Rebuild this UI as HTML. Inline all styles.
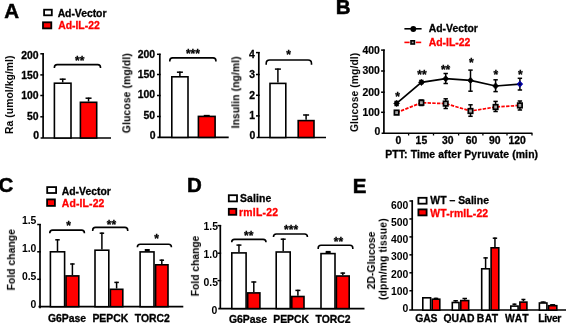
<!DOCTYPE html>
<html><head><meta charset="utf-8"><style>
html,body{margin:0;padding:0;background:#fff;}
body{width:566px;height:323px;overflow:hidden;}
svg{display:block;font-family:"Liberation Sans", sans-serif;font-weight:bold;}
text{will-change:transform;}
</style></head><body>
<svg width="566" height="323" viewBox="0 0 566 323">
<rect width="566" height="323" fill="#fff"/>
<text x="4.29" y="18" font-size="20.5" fill="#000" stroke="#000" stroke-width="0.5">A</text>
<rect x="44.1" y="9.7" width="7.7" height="5.6" fill="#fff" stroke="#000" stroke-width="1.8"/>
<text x="57.64" y="16.9" font-size="10.4" fill="#000" stroke="#000" stroke-width="0.3" letter-spacing="-0.03">Ad-Vector</text>
<rect x="43" y="22.3" width="8.3" height="6.1" fill="#ff0000" stroke="#000" stroke-width="1.8"/>
<text x="58.14" y="29.3" font-size="10.4" fill="#ff0000" stroke="#ff0000" stroke-width="0.3" letter-spacing="-0">Ad-IL-22</text>
<line x1="43.1" y1="138" x2="43.1" y2="53.2" stroke="#000" stroke-width="1.7" />
<line x1="40.3" y1="53.8" x2="43.95" y2="53.8" stroke="#000" stroke-width="1.5" />
<line x1="40.3" y1="74.9" x2="43.95" y2="74.9" stroke="#000" stroke-width="1.5" />
<line x1="40.3" y1="95.5" x2="43.95" y2="95.5" stroke="#000" stroke-width="1.5" />
<line x1="40.3" y1="116.8" x2="43.95" y2="116.8" stroke="#000" stroke-width="1.5" />
<text x="21.2" y="58.84" font-size="10.4" fill="#000" stroke="#000" stroke-width="0.3" >200</text>
<text x="21.2" y="78.84" font-size="10.4" fill="#000" stroke="#000" stroke-width="0.3" >150</text>
<text x="21.2" y="99.14" font-size="10.4" fill="#000" stroke="#000" stroke-width="0.3" >100</text>
<text x="26.92" y="120.14" font-size="10.4" fill="#000" stroke="#000" stroke-width="0.3" >50</text>
<text x="33.34" y="139.34" font-size="10.4" fill="#000" stroke="#000" stroke-width="0.3" >0</text>
<line x1="40.6" y1="138" x2="111" y2="138" stroke="#000" stroke-width="1.7" />
<rect x="54.4" y="83.2" width="16.6" height="54.8" fill="#fff" stroke="#000" stroke-width="1.6"/>
<line x1="62.7" y1="82.4" x2="62.7" y2="78.6" stroke="#000" stroke-width="1.5" />
<line x1="59.7" y1="79.2" x2="65.7" y2="79.2" stroke="#000" stroke-width="1.5" />
<rect x="80.4" y="102.3" width="16.3" height="35.7" fill="#ff0000" stroke="#000" stroke-width="1.6"/>
<line x1="88.55" y1="101.5" x2="88.55" y2="97.6" stroke="#000" stroke-width="1.5" />
<line x1="85.55" y1="98.2" x2="91.55" y2="98.2" stroke="#000" stroke-width="1.5" />
<path d="M54.4,68 L54.4,67.4 Q54.4,64.6 57.2,64.6 L97.7,64.6 Q100.5,64.6 100.5,67.4 L100.5,68" fill="none" stroke="#000" stroke-width="1.6"/>
<text x="75.05" y="64.55" font-size="12" fill="#000" stroke="#000" stroke-width="0.3" >**</text>
<text x="0" y="0" font-size="10.3" letter-spacing="0.09" fill="#000" transform="translate(13,133.97) rotate(-90)">Ra (umol/kg/ml)</text>
<line x1="159.8" y1="137.4" x2="159.8" y2="53.7" stroke="#000" stroke-width="1.7" />
<line x1="157" y1="54.3" x2="160.65" y2="54.3" stroke="#000" stroke-width="1.5" />
<line x1="157" y1="74.5" x2="160.65" y2="74.5" stroke="#000" stroke-width="1.5" />
<line x1="157" y1="95.5" x2="160.65" y2="95.5" stroke="#000" stroke-width="1.5" />
<line x1="157" y1="116.5" x2="160.65" y2="116.5" stroke="#000" stroke-width="1.5" />
<text x="137.7" y="58.14" font-size="10.4" fill="#000" stroke="#000" stroke-width="0.3" >200</text>
<text x="137.7" y="78.34" font-size="10.4" fill="#000" stroke="#000" stroke-width="0.3" >150</text>
<text x="137.7" y="98.34" font-size="10.4" fill="#000" stroke="#000" stroke-width="0.3" >100</text>
<text x="143.42" y="118.74" font-size="10.4" fill="#000" stroke="#000" stroke-width="0.3" >50</text>
<text x="149.74" y="138.84" font-size="10.4" fill="#000" stroke="#000" stroke-width="0.3" >0</text>
<line x1="157.4" y1="137.4" x2="228.7" y2="137.4" stroke="#000" stroke-width="1.7" />
<rect x="171.8" y="76.8" width="16.2" height="60.6" fill="#fff" stroke="#000" stroke-width="1.6"/>
<line x1="179.9" y1="76" x2="179.9" y2="71.6" stroke="#000" stroke-width="1.5" />
<line x1="176.9" y1="72.2" x2="182.9" y2="72.2" stroke="#000" stroke-width="1.5" />
<rect x="198.4" y="116.4" width="16.7" height="21" fill="#ff0000" stroke="#000" stroke-width="1.6"/>
<line x1="206.75" y1="115.6" x2="206.75" y2="115" stroke="#000" stroke-width="1.5" />
<line x1="203.75" y1="115.6" x2="209.75" y2="115.6" stroke="#000" stroke-width="1.5" />
<path d="M169.8,61.4 L169.8,60.7 Q169.8,57.9 172.6,57.9 L213.1,57.9 Q215.9,57.9 215.9,60.7 L215.9,61.4" fill="none" stroke="#000" stroke-width="1.6"/>
<text x="185.95" y="57.55" font-size="12" fill="#000" stroke="#000" stroke-width="0.3" >***</text>
<text x="0" y="0" font-size="10.3" letter-spacing="0.15" fill="#000" transform="translate(130.3,133.21) rotate(-90)">Glucose (mg/dl)</text>
<line x1="258.8" y1="137.5" x2="258.8" y2="52" stroke="#000" stroke-width="1.7" />
<line x1="256" y1="52.6" x2="259.65" y2="52.6" stroke="#000" stroke-width="1.5" />
<line x1="256" y1="74.5" x2="259.65" y2="74.5" stroke="#000" stroke-width="1.5" />
<line x1="256" y1="95.3" x2="259.65" y2="95.3" stroke="#000" stroke-width="1.5" />
<line x1="256" y1="115.9" x2="259.65" y2="115.9" stroke="#000" stroke-width="1.5" />
<text x="248.98" y="58.24" font-size="10.4" fill="#000" stroke="#000" stroke-width="0.3" >4</text>
<text x="249.24" y="78.44" font-size="10.4" fill="#000" stroke="#000" stroke-width="0.3" >3</text>
<text x="249.24" y="98.54" font-size="10.4" fill="#000" stroke="#000" stroke-width="0.3" >2</text>
<text x="249.24" y="119.24" font-size="10.4" fill="#000" stroke="#000" stroke-width="0.3" >1</text>
<text x="249.54" y="138.74" font-size="10.4" fill="#000" stroke="#000" stroke-width="0.3" >0</text>
<line x1="256.6" y1="137.5" x2="326" y2="137.5" stroke="#000" stroke-width="1.7" />
<rect x="270" y="83.4" width="15.8" height="54.1" fill="#fff" stroke="#000" stroke-width="1.6"/>
<line x1="277.9" y1="82.6" x2="277.9" y2="68.5" stroke="#000" stroke-width="1.5" />
<line x1="274.9" y1="69.1" x2="280.9" y2="69.1" stroke="#000" stroke-width="1.5" />
<rect x="298.2" y="120.6" width="15.8" height="16.9" fill="#ff0000" stroke="#000" stroke-width="1.6"/>
<line x1="306.1" y1="119.8" x2="306.1" y2="114.4" stroke="#000" stroke-width="1.5" />
<line x1="303.1" y1="115" x2="309.1" y2="115" stroke="#000" stroke-width="1.5" />
<path d="M266.2,64.8 L266.2,63.4 Q266.2,60 269.6,60 L308.1,60 Q311.5,60 311.5,63.4 L311.5,64.8" fill="none" stroke="#000" stroke-width="1.6"/>
<text x="286.25" y="58.85" font-size="12" fill="#000" stroke="#000" stroke-width="0.3" >*</text>
<text x="0" y="0" font-size="10.3" letter-spacing="0.11" fill="#000" transform="translate(239.3,128.37) rotate(-90)">Insulin (ng/ml)</text>
<text x="335.86" y="13.9" font-size="20.5" fill="#000" stroke="#000" stroke-width="0.5">B</text>
<line x1="404.4" y1="28.8" x2="421.6" y2="28.8" stroke="#000" stroke-width="1.6" />
<circle cx="413.3" cy="29" r="2.9" fill="#000"/>
<text x="428.74" y="32.3" font-size="10.4" fill="#000" stroke="#000" stroke-width="0.3" letter-spacing="0.01">Ad-Vector</text>
<line x1="404.4" y1="42.4" x2="409.6" y2="42.4" stroke="#ff0000" stroke-width="1.6" />
<line x1="415.8" y1="42.4" x2="421.2" y2="42.4" stroke="#ff0000" stroke-width="1.6" />
<rect x="411" y="40.8" width="3.4" height="3.2" fill="#a0a0a0" stroke="#000" stroke-width="1.6"/>
<text x="428.74" y="46.4" font-size="10.4" fill="#ff0000" stroke="#ff0000" stroke-width="0.3" letter-spacing="-0">Ad-IL-22</text>
<line x1="383.9" y1="133.3" x2="383.9" y2="49.5" stroke="#000" stroke-width="1.7" />
<line x1="381.1" y1="50.1" x2="384.75" y2="50.1" stroke="#000" stroke-width="1.5" />
<line x1="381.1" y1="71" x2="384.75" y2="71" stroke="#000" stroke-width="1.5" />
<line x1="381.1" y1="92.2" x2="384.75" y2="92.2" stroke="#000" stroke-width="1.5" />
<line x1="381.1" y1="112.3" x2="384.75" y2="112.3" stroke="#000" stroke-width="1.5" />
<text x="362.4" y="54.39" font-size="10.4" fill="#000" stroke="#000" stroke-width="0.2" >400</text>
<text x="362.4" y="74.49" font-size="10.4" fill="#000" stroke="#000" stroke-width="0.2" >300</text>
<text x="362.4" y="95.84" font-size="10.4" fill="#000" stroke="#000" stroke-width="0.2" >200</text>
<text x="362.4" y="115.94" font-size="10.4" fill="#000" stroke="#000" stroke-width="0.2" >100</text>
<text x="374.54" y="134.94" font-size="10.4" fill="#000" stroke="#000" stroke-width="0.2" >0</text>
<line x1="381.6" y1="133.3" x2="532.4" y2="133.3" stroke="#000" stroke-width="1.6" />
<line x1="408.6" y1="133.3" x2="408.6" y2="135.5" stroke="#000" stroke-width="1.3" />
<line x1="433.5" y1="133.3" x2="433.5" y2="135.5" stroke="#000" stroke-width="1.3" />
<line x1="458.6" y1="133.3" x2="458.6" y2="135.5" stroke="#000" stroke-width="1.3" />
<line x1="482.9" y1="133.3" x2="482.9" y2="135.5" stroke="#000" stroke-width="1.3" />
<line x1="507" y1="133.3" x2="507" y2="135.5" stroke="#000" stroke-width="1.3" />
<line x1="532" y1="133.3" x2="532" y2="135.5" stroke="#000" stroke-width="1.3" />
<text x="395.51" y="143.5" font-size="10.4" fill="#000" stroke="#000" stroke-width="0.3" >0</text>
<text x="415.62" y="143.5" font-size="10.4" fill="#000" stroke="#000" stroke-width="0.3" >15</text>
<text x="441.88" y="143.5" font-size="10.4" fill="#000" stroke="#000" stroke-width="0.3" >30</text>
<text x="465.65" y="143.5" font-size="10.4" fill="#000" stroke="#000" stroke-width="0.3" >60</text>
<text x="488.98" y="143.5" font-size="10.4" fill="#000" stroke="#000" stroke-width="0.3" >90</text>
<text x="508.56" y="143.5" font-size="10.4" fill="#000" stroke="#000" stroke-width="0.3" >120</text>
<text x="385.22" y="158.4" font-size="10.4" fill="#000" stroke="#000" stroke-width="0.3" letter-spacing="0.12">PTT: Time after Pyruvate (min)</text>
<text x="0" y="0" font-size="10.3" letter-spacing="0.1" fill="#000" transform="translate(358.1,132.01) rotate(-90)">Glucose (mg/dl)</text>
<polyline points="396.6,112.6 421.4,102.7 445.7,103.6 470.5,111 495.6,107 519.9,105.4" fill="none" stroke="#ff0000" stroke-width="1.7" stroke-dasharray="3.4,1.3"/>
<line x1="396.6" y1="111" x2="396.6" y2="114" stroke="#000" stroke-width="1.5" />
<line x1="394.4" y1="111" x2="398.8" y2="111" stroke="#000" stroke-width="1.5" />
<line x1="394.4" y1="114" x2="398.8" y2="114" stroke="#000" stroke-width="1.5" />
<line x1="421.4" y1="100" x2="421.4" y2="105.5" stroke="#000" stroke-width="1.5" />
<line x1="419.2" y1="100" x2="423.6" y2="100" stroke="#000" stroke-width="1.5" />
<line x1="419.2" y1="105.5" x2="423.6" y2="105.5" stroke="#000" stroke-width="1.5" />
<line x1="445.7" y1="98.8" x2="445.7" y2="108.5" stroke="#000" stroke-width="1.5" />
<line x1="443.5" y1="98.8" x2="447.9" y2="98.8" stroke="#000" stroke-width="1.5" />
<line x1="443.5" y1="108.5" x2="447.9" y2="108.5" stroke="#000" stroke-width="1.5" />
<line x1="470.5" y1="104.8" x2="470.5" y2="116.3" stroke="#000" stroke-width="1.5" />
<line x1="468.3" y1="104.8" x2="472.7" y2="104.8" stroke="#000" stroke-width="1.5" />
<line x1="468.3" y1="116.3" x2="472.7" y2="116.3" stroke="#000" stroke-width="1.5" />
<line x1="495.6" y1="101.4" x2="495.6" y2="111.5" stroke="#000" stroke-width="1.5" />
<line x1="493.4" y1="101.4" x2="497.8" y2="101.4" stroke="#000" stroke-width="1.5" />
<line x1="493.4" y1="111.5" x2="497.8" y2="111.5" stroke="#000" stroke-width="1.5" />
<line x1="519.9" y1="101" x2="519.9" y2="110" stroke="#000" stroke-width="1.5" />
<line x1="517.7" y1="101" x2="522.1" y2="101" stroke="#000" stroke-width="1.5" />
<line x1="517.7" y1="110" x2="522.1" y2="110" stroke="#000" stroke-width="1.5" />
<rect x="394.4" y="110.3" width="4.4" height="4.6" fill="#a8a8a8" stroke="#000" stroke-width="1.7"/>
<rect x="419.2" y="100.4" width="4.4" height="4.6" fill="#a8a8a8" stroke="#000" stroke-width="1.7"/>
<rect x="443.5" y="101.3" width="4.4" height="4.6" fill="#a8a8a8" stroke="#000" stroke-width="1.7"/>
<rect x="468.3" y="108.7" width="4.4" height="4.6" fill="#a8a8a8" stroke="#000" stroke-width="1.7"/>
<rect x="493.4" y="104.7" width="4.4" height="4.6" fill="#a8a8a8" stroke="#000" stroke-width="1.7"/>
<rect x="517.7" y="103.1" width="4.4" height="4.6" fill="#a8a8a8" stroke="#000" stroke-width="1.7"/>
<polyline points="396.6,103.4 421.4,82.4 445.7,78.7 470.5,80.4 495.6,86 519.9,84.1" fill="none" stroke="#000" stroke-width="1.7"/>
<line x1="396.6" y1="101.5" x2="396.6" y2="105.5" stroke="#000" stroke-width="1.5" />
<line x1="394.4" y1="101.5" x2="398.8" y2="101.5" stroke="#000" stroke-width="1.5" />
<line x1="394.4" y1="105.5" x2="398.8" y2="105.5" stroke="#000" stroke-width="1.5" />
<line x1="421.4" y1="80.5" x2="421.4" y2="83.5" stroke="#000" stroke-width="1.5" />
<line x1="419.2" y1="80.5" x2="423.6" y2="80.5" stroke="#000" stroke-width="1.5" />
<line x1="419.2" y1="83.5" x2="423.6" y2="83.5" stroke="#000" stroke-width="1.5" />
<line x1="445.7" y1="73.5" x2="445.7" y2="83.5" stroke="#000" stroke-width="1.5" />
<line x1="443.5" y1="73.5" x2="447.9" y2="73.5" stroke="#000" stroke-width="1.5" />
<line x1="443.5" y1="83.5" x2="447.9" y2="83.5" stroke="#000" stroke-width="1.5" />
<line x1="470.5" y1="70.1" x2="470.5" y2="91.2" stroke="#000" stroke-width="1.5" />
<line x1="468.3" y1="70.1" x2="472.7" y2="70.1" stroke="#000" stroke-width="1.5" />
<line x1="468.3" y1="91.2" x2="472.7" y2="91.2" stroke="#000" stroke-width="1.5" />
<line x1="495.6" y1="79.8" x2="495.6" y2="91.6" stroke="#000" stroke-width="1.5" />
<line x1="493.4" y1="79.8" x2="497.8" y2="79.8" stroke="#000" stroke-width="1.5" />
<line x1="493.4" y1="91.6" x2="497.8" y2="91.6" stroke="#000" stroke-width="1.5" />
<line x1="519.9" y1="78.3" x2="519.9" y2="90" stroke="#000" stroke-width="1.5" />
<line x1="517.7" y1="78.3" x2="522.1" y2="78.3" stroke="#000" stroke-width="1.5" />
<line x1="517.7" y1="90" x2="522.1" y2="90" stroke="#000" stroke-width="1.5" />
<path d="M396.6,100.2 L399.5,103.4 L396.6,106.6 L393.7,103.4 Z" fill="#000" stroke="#000" stroke-width="0.6"/>
<path d="M421.4,79.2 L424.3,82.4 L421.4,85.6 L418.5,82.4 Z" fill="#000" stroke="#000" stroke-width="0.6"/>
<path d="M445.7,75.5 L448.6,78.7 L445.7,81.9 L442.8,78.7 Z" fill="#000" stroke="#000" stroke-width="0.6"/>
<path d="M470.5,77.2 L473.4,80.4 L470.5,83.6 L467.6,80.4 Z" fill="#000" stroke="#000" stroke-width="0.6"/>
<path d="M495.6,82.8 L498.5,86 L495.6,89.2 L492.7,86 Z" fill="#000" stroke="#000" stroke-width="0.6"/>
<path d="M519.9,80.9 L522.8,84.1 L519.9,87.3 L517,84.1 Z" fill="#0000a6" stroke="#0000a6" stroke-width="0.6"/>
<circle cx="519.9" cy="84.1" r="0.9" fill="#000"/>
<text x="395.25" y="100.75" font-size="12" fill="#000" stroke="#000" stroke-width="0.3" >*</text>
<text x="417.35" y="78.95" font-size="12" fill="#000" stroke="#000" stroke-width="0.3" >**</text>
<text x="440.95" y="74.25" font-size="12" fill="#000" stroke="#000" stroke-width="0.3" >**</text>
<text x="468.95" y="67.35" font-size="12" fill="#000" stroke="#000" stroke-width="0.3" >*</text>
<text x="493.45" y="79.15" font-size="12" fill="#000" stroke="#000" stroke-width="0.3" >*</text>
<text x="518.05" y="79.15" font-size="12" fill="#000" stroke="#000" stroke-width="0.3" >*</text>
<text x="-1.42" y="191.7" font-size="20.5" fill="#000" stroke="#000" stroke-width="0.5">C</text>
<rect x="47.2" y="187.1" width="8.9" height="5.9" fill="#fff" stroke="#000" stroke-width="1.8"/>
<text x="61.74" y="194.5" font-size="10.4" fill="#000" stroke="#000" stroke-width="0.3" letter-spacing="0.01">Ad-Vector</text>
<rect x="47.1" y="199.4" width="7.8" height="6.5" fill="#ff0000" stroke="#000" stroke-width="1.8"/>
<text x="61.74" y="207.4" font-size="10.4" fill="#ff0000" stroke="#ff0000" stroke-width="0.3" letter-spacing="0.15">Ad-IL-22</text>
<line x1="40" y1="308.2" x2="40" y2="223.9" stroke="#000" stroke-width="1.7" />
<line x1="37.2" y1="224.5" x2="40.85" y2="224.5" stroke="#000" stroke-width="1.5" />
<line x1="37.2" y1="251.8" x2="40.85" y2="251.8" stroke="#000" stroke-width="1.5" />
<line x1="37.2" y1="279.3" x2="40.85" y2="279.3" stroke="#000" stroke-width="1.5" />
<text x="21.96" y="224.4" font-size="10.4" fill="#000" >1.5</text>
<text x="21.96" y="252.1" font-size="10.4" fill="#000" >1.0</text>
<text x="21.96" y="280.3" font-size="10.4" fill="#000" >0.5</text>
<text x="30.54" y="307.8" font-size="10.4" fill="#000" >0</text>
<line x1="38.5" y1="306.7" x2="183.3" y2="306.7" stroke="#000" stroke-width="1.7" />
<rect x="50.4" y="251.8" width="14.2" height="54.9" fill="#fff" stroke="#000" stroke-width="1.6"/>
<line x1="57.5" y1="251" x2="57.5" y2="239.2" stroke="#000" stroke-width="1.5" />
<line x1="55.25" y1="239.8" x2="59.75" y2="239.8" stroke="#000" stroke-width="1.5" />
<rect x="66" y="275.9" width="12.8" height="30.8" fill="#ff0000" stroke="#000" stroke-width="1.6"/>
<line x1="72.4" y1="275.1" x2="72.4" y2="263.4" stroke="#000" stroke-width="1.5" />
<line x1="70.15" y1="264" x2="74.65" y2="264" stroke="#000" stroke-width="1.5" />
<rect x="95" y="250.2" width="13.8" height="56.5" fill="#fff" stroke="#000" stroke-width="1.6"/>
<line x1="101.9" y1="249.4" x2="101.9" y2="232.6" stroke="#000" stroke-width="1.5" />
<line x1="99.65" y1="233.2" x2="104.15" y2="233.2" stroke="#000" stroke-width="1.5" />
<rect x="110.4" y="289.3" width="12.4" height="17.4" fill="#ff0000" stroke="#000" stroke-width="1.6"/>
<line x1="116.6" y1="288.5" x2="116.6" y2="281.8" stroke="#000" stroke-width="1.5" />
<line x1="114.35" y1="282.4" x2="118.85" y2="282.4" stroke="#000" stroke-width="1.5" />
<rect x="140.1" y="251.9" width="13.9" height="54.8" fill="#fff" stroke="#000" stroke-width="1.6"/>
<line x1="147.05" y1="251.1" x2="147.05" y2="249.3" stroke="#000" stroke-width="1.5" />
<line x1="144.8" y1="249.9" x2="149.3" y2="249.9" stroke="#000" stroke-width="1.5" />
<rect x="144.9" y="249" width="4.8" height="2.6" fill="#000"/>
<rect x="155.6" y="264.8" width="12.4" height="41.9" fill="#ff0000" stroke="#000" stroke-width="1.6"/>
<line x1="161.8" y1="264" x2="161.8" y2="259.6" stroke="#000" stroke-width="1.5" />
<line x1="159.55" y1="260.2" x2="164.05" y2="260.2" stroke="#000" stroke-width="1.5" />
<path d="M49.8,233.3 L49.8,232.9 Q49.8,230.1 52.6,230.1 L81.6,230.1 Q84.4,230.1 84.4,232.9 L84.4,233.3" fill="none" stroke="#000" stroke-width="1.6"/>
<path d="M92.7,230.9 L92.7,230.2 Q92.7,227.4 95.5,227.4 L124.9,227.4 Q127.7,227.4 127.7,230.2 L127.7,230.9" fill="none" stroke="#000" stroke-width="1.6"/>
<path d="M137.4,247.2 L137.4,247 Q137.4,244.2 140.2,244.2 L168.6,244.2 Q171.4,244.2 171.4,247 L171.4,247.2" fill="none" stroke="#000" stroke-width="1.6"/>
<text x="66.25" y="230.15" font-size="12" fill="#000" stroke="#000" stroke-width="0.3" >*</text>
<text x="106.85" y="228.95" font-size="12" fill="#000" stroke="#000" stroke-width="0.3" >**</text>
<text x="154.25" y="242.65" font-size="12" fill="#000" stroke="#000" stroke-width="0.3" >*</text>
<text x="47.88" y="321.5" font-size="10.4" fill="#000" stroke="#000" stroke-width="0.3" letter-spacing="0.02">G6Pase</text>
<text x="92.42" y="321.5" font-size="10.4" fill="#000" stroke="#000" stroke-width="0.3" letter-spacing="-0.01">PEPCK</text>
<text x="134.7" y="321.5" font-size="10.4" fill="#000" stroke="#000" stroke-width="0.3" letter-spacing="0.03">TORC2</text>
<text x="0" y="0" font-size="10.3" letter-spacing="0.05" fill="#000" transform="translate(14.9,290.37) rotate(-90)">Fold change</text>
<text x="187.06" y="191.7" font-size="20.5" fill="#000" stroke="#000" stroke-width="0.5">D</text>
<rect x="228.8" y="195.2" width="8.2" height="6.2" fill="#fff" stroke="#000" stroke-width="1.8"/>
<text x="240.04" y="202.3" font-size="10.4" fill="#000" stroke="#000" stroke-width="0.3" letter-spacing="0.14">Saline</text>
<rect x="228.8" y="208.8" width="7.5" height="6" fill="#ff0000" stroke="#000" stroke-width="1.8"/>
<text x="239.12" y="216" font-size="10.4" fill="#ff0000" stroke="#ff0000" stroke-width="0.3" letter-spacing="0.22">rmIL-22</text>
<line x1="220.3" y1="308.6" x2="220.3" y2="225" stroke="#000" stroke-width="1.7" />
<line x1="217.5" y1="225.6" x2="221.15" y2="225.6" stroke="#000" stroke-width="1.5" />
<line x1="217.5" y1="253.2" x2="221.15" y2="253.2" stroke="#000" stroke-width="1.5" />
<line x1="217.5" y1="280.6" x2="221.15" y2="280.6" stroke="#000" stroke-width="1.5" />
<text x="203.56" y="230.44" font-size="10.4" fill="#000" >1.5</text>
<text x="203.56" y="258.34" font-size="10.4" fill="#000" >1.0</text>
<text x="203.56" y="285.94" font-size="10.4" fill="#000" >0.5</text>
<text x="211.44" y="313.64" font-size="10.4" fill="#000" >0</text>
<line x1="218.3" y1="308.6" x2="364.5" y2="308.6" stroke="#000" stroke-width="1.7" />
<rect x="231.8" y="252.9" width="14.3" height="55.7" fill="#fff" stroke="#000" stroke-width="1.6"/>
<line x1="238.95" y1="252.1" x2="238.95" y2="244.5" stroke="#000" stroke-width="1.5" />
<line x1="236.45" y1="245.1" x2="241.45" y2="245.1" stroke="#000" stroke-width="1.5" />
<rect x="247.7" y="292.9" width="12.2" height="15.7" fill="#ff0000" stroke="#000" stroke-width="1.6"/>
<line x1="253.8" y1="292.1" x2="253.8" y2="281.4" stroke="#000" stroke-width="1.5" />
<line x1="251.3" y1="282" x2="256.3" y2="282" stroke="#000" stroke-width="1.5" />
<rect x="276.2" y="252" width="14" height="56.6" fill="#fff" stroke="#000" stroke-width="1.6"/>
<line x1="283.2" y1="251.2" x2="283.2" y2="238.6" stroke="#000" stroke-width="1.5" />
<line x1="280.7" y1="239.2" x2="285.7" y2="239.2" stroke="#000" stroke-width="1.5" />
<rect x="291.8" y="296.5" width="12.2" height="12.1" fill="#ff0000" stroke="#000" stroke-width="1.6"/>
<line x1="297.9" y1="295.7" x2="297.9" y2="289.8" stroke="#000" stroke-width="1.5" />
<line x1="295.4" y1="290.4" x2="300.4" y2="290.4" stroke="#000" stroke-width="1.5" />
<rect x="321" y="253.6" width="14" height="55" fill="#fff" stroke="#000" stroke-width="1.6"/>
<line x1="328" y1="252.8" x2="328" y2="251.6" stroke="#000" stroke-width="1.5" />
<line x1="325.7" y1="252.2" x2="330.3" y2="252.2" stroke="#000" stroke-width="1.5" />
<rect x="325.8" y="250.9" width="4.8" height="2.3" fill="#000"/>
<rect x="336.4" y="276" width="12.8" height="32.6" fill="#ff0000" stroke="#000" stroke-width="1.6"/>
<line x1="342.8" y1="275.2" x2="342.8" y2="272.5" stroke="#000" stroke-width="1.5" />
<line x1="340.5" y1="273.1" x2="345.1" y2="273.1" stroke="#000" stroke-width="1.5" />
<path d="M231.7,242.3 L231.7,242.2 Q231.7,239.4 234.5,239.4 L263.2,239.4 Q266,239.4 266,242.2 L266,242.3" fill="none" stroke="#000" stroke-width="1.6"/>
<path d="M273.5,236.9 L273.5,236.8 Q273.5,234 276.3,234 L304.6,234 Q307.4,234 307.4,236.8 L307.4,236.9" fill="none" stroke="#000" stroke-width="1.6"/>
<path d="M318.2,249.1 L318.2,248.1 Q318.2,245.3 321,245.3 L350,245.3 Q352.8,245.3 352.8,248.1 L352.8,249.1" fill="none" stroke="#000" stroke-width="1.6"/>
<text x="244.05" y="240.05" font-size="12" fill="#000" stroke="#000" stroke-width="0.3" >**</text>
<text x="284.05" y="234.15" font-size="12" fill="#000" stroke="#000" stroke-width="0.3" >***</text>
<text x="333.85" y="245.65" font-size="12" fill="#000" stroke="#000" stroke-width="0.3" >**</text>
<text x="228.98" y="322.9" font-size="10.4" fill="#000" stroke="#000" stroke-width="0.3" letter-spacing="-0.02">G6Pase</text>
<text x="273.22" y="322.9" font-size="10.4" fill="#000" stroke="#000" stroke-width="0.3" letter-spacing="-0.01">PEPCK</text>
<text x="315.5" y="322.9" font-size="10.4" fill="#000" stroke="#000" stroke-width="0.3" letter-spacing="0.03">TORC2</text>
<text x="0" y="0" font-size="10.3" letter-spacing="-0.01" fill="#000" transform="translate(198.9,296.27) rotate(-90)">Fold change</text>
<text x="352.86" y="192.7" font-size="20.5" fill="#000" stroke="#000" stroke-width="0.5">E</text>
<rect x="418.4" y="197.8" width="8.2" height="5.9" fill="#fff" stroke="#000" stroke-width="1.8"/>
<text x="430.3" y="204.2" font-size="10.4" fill="#000" stroke="#000" stroke-width="0.3" letter-spacing="0.03">WT – Saline</text>
<rect x="418.4" y="209.4" width="8.2" height="6" fill="#ff0000" stroke="#000" stroke-width="1.8"/>
<text x="430.3" y="216.5" font-size="10.4" fill="#ff0000" stroke="#ff0000" stroke-width="0.3" letter-spacing="0.14">WT-rmIL-22</text>
<line x1="412.2" y1="310.1" x2="412.2" y2="200.4" stroke="#000" stroke-width="1.7" />
<line x1="409.4" y1="201" x2="413.05" y2="201" stroke="#000" stroke-width="1.5" />
<line x1="409.4" y1="218.95" x2="413.05" y2="218.95" stroke="#000" stroke-width="1.5" />
<line x1="409.4" y1="236.9" x2="413.05" y2="236.9" stroke="#000" stroke-width="1.5" />
<line x1="409.4" y1="254.85" x2="413.05" y2="254.85" stroke="#000" stroke-width="1.5" />
<line x1="409.4" y1="272.8" x2="413.05" y2="272.8" stroke="#000" stroke-width="1.5" />
<line x1="409.4" y1="290.75" x2="413.05" y2="290.75" stroke="#000" stroke-width="1.5" />
<text x="391" y="208.74" font-size="10.4" fill="#000" >600</text>
<text x="391" y="225.99" font-size="10.4" fill="#000" >500</text>
<text x="391" y="243.24" font-size="10.4" fill="#000" >400</text>
<text x="391" y="260.49" font-size="10.4" fill="#000" >300</text>
<text x="391" y="277.74" font-size="10.4" fill="#000" >200</text>
<text x="391" y="294.99" font-size="10.4" fill="#000" >100</text>
<text x="402.44" y="312.24" font-size="10.4" fill="#000" >0</text>
<line x1="409.2" y1="310.1" x2="566" y2="310.1" stroke="#000" stroke-width="1.5" />
<rect x="422.8" y="297.8" width="7.8" height="12.3" fill="#fff" stroke="#000" stroke-width="1.6"/>
<rect x="432.2" y="299.2" width="7.6" height="10.9" fill="#ff0000" stroke="#000" stroke-width="1.6"/>
<line x1="436" y1="298.4" x2="436" y2="297.8" stroke="#000" stroke-width="1.5" />
<line x1="433.75" y1="298.4" x2="438.25" y2="298.4" stroke="#000" stroke-width="1.5" />
<rect x="452.3" y="302.5" width="6.7" height="7.6" fill="#fff" stroke="#000" stroke-width="1.6"/>
<line x1="455.65" y1="301.7" x2="455.65" y2="300.2" stroke="#000" stroke-width="1.5" />
<line x1="453.4" y1="300.8" x2="457.9" y2="300.8" stroke="#000" stroke-width="1.5" />
<rect x="460.8" y="300.6" width="7.9" height="9.5" fill="#ff0000" stroke="#000" stroke-width="1.6"/>
<line x1="464.75" y1="299.8" x2="464.75" y2="297.9" stroke="#000" stroke-width="1.5" />
<line x1="462.5" y1="298.5" x2="467" y2="298.5" stroke="#000" stroke-width="1.5" />
<rect x="481.7" y="268.8" width="7.8" height="41.3" fill="#fff" stroke="#000" stroke-width="1.6"/>
<line x1="485.6" y1="268" x2="485.6" y2="257.3" stroke="#000" stroke-width="1.5" />
<line x1="483.4" y1="257.9" x2="487.8" y2="257.9" stroke="#000" stroke-width="1.5" />
<rect x="491.1" y="247.8" width="7.7" height="62.3" fill="#ff0000" stroke="#000" stroke-width="1.6"/>
<line x1="494.95" y1="247" x2="494.95" y2="237.6" stroke="#000" stroke-width="1.5" />
<line x1="492.75" y1="238.2" x2="497.15" y2="238.2" stroke="#000" stroke-width="1.5" />
<rect x="510.8" y="306.1" width="7.3" height="4" fill="#fff" stroke="#000" stroke-width="1.6"/>
<line x1="514.45" y1="305.3" x2="514.45" y2="303.6" stroke="#000" stroke-width="1.5" />
<line x1="512.45" y1="304.2" x2="516.45" y2="304.2" stroke="#000" stroke-width="1.5" />
<rect x="519.9" y="302.1" width="7" height="8" fill="#ff0000" stroke="#000" stroke-width="1.6"/>
<line x1="523.4" y1="301.3" x2="523.4" y2="298.9" stroke="#000" stroke-width="1.5" />
<line x1="521.4" y1="299.5" x2="525.4" y2="299.5" stroke="#000" stroke-width="1.5" />
<rect x="539.4" y="303" width="7.5" height="7.1" fill="#fff" stroke="#000" stroke-width="1.6"/>
<line x1="543.15" y1="302.2" x2="543.15" y2="301.5" stroke="#000" stroke-width="1.5" />
<line x1="540.65" y1="302.1" x2="545.65" y2="302.1" stroke="#000" stroke-width="1.5" />
<rect x="548.5" y="305.7" width="8.3" height="4.4" fill="#ff0000" stroke="#000" stroke-width="1.6"/>
<line x1="552.65" y1="304.9" x2="552.65" y2="304.2" stroke="#000" stroke-width="1.5" />
<line x1="550.15" y1="304.8" x2="555.15" y2="304.8" stroke="#000" stroke-width="1.5" />
<text x="415.28" y="322.2" font-size="10.4" fill="#000" stroke="#000" stroke-width="0.3" letter-spacing="-0.19">GAS</text>
<text x="443.38" y="322.2" font-size="10.4" fill="#000" stroke="#000" stroke-width="0.3" letter-spacing="0.15">QUAD</text>
<text x="476.82" y="322.2" font-size="10.4" fill="#000" stroke="#000" stroke-width="0.3" letter-spacing="0.32">BAT</text>
<text x="504.9" y="322.2" font-size="10.4" fill="#000" stroke="#000" stroke-width="0.3" letter-spacing="0.67">WAT</text>
<text x="538.22" y="322.2" font-size="10.4" fill="#000" stroke="#000" stroke-width="0.3" letter-spacing="-0.43">Liver</text>
<text x="0" y="0" font-size="10.3" letter-spacing="0.07" fill="#000" transform="translate(375,289.36) rotate(-90)">2D-Glucose</text>
<text x="0" y="0" font-size="10.3" letter-spacing="0.15" fill="#000" transform="translate(386.6,300.01) rotate(-90)">(dpm/mg tissue)</text>
</svg>
</body></html>
